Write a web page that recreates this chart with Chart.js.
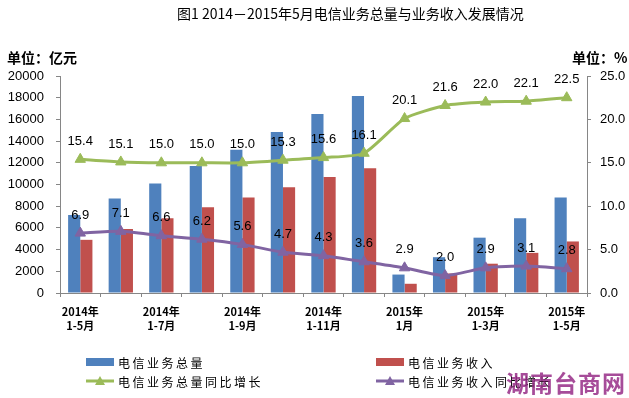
<!DOCTYPE html>
<html>
<head>
<meta charset="utf-8">
<script src="https://cdn.jsdelivr.net/npm/chart.js@4"></script>
<style>
  body { margin: 0; background: #fff; }
  #wrap { position: relative; width: 629px; height: 398px; overflow: hidden; font-family: "Noto Sans CJK SC", sans-serif; }
  #myChart { position: absolute; left: 0; top: 0; }
  .txt { position: absolute; white-space: nowrap; color: #000; }
  #title { left: 177px; top: 4px; font-size: 14px; line-height: 19px; }
  #unitL { left: 7px; top: 48px; font-size: 14px; font-weight: bold; line-height: 19px; }
  #unitR { left: 572px; top: 48px; font-size: 14px; font-weight: bold; line-height: 19px; }
  .leg { position: absolute; height: 18px; display: flex; align-items: center; font-size: 12px; letter-spacing: 2.5px; }
  .leg .sw { width: 28px; height: 8px; margin-right: 4px; }
  .leg svg { margin-right: 4px; }
  #mark { right: 3px; top: 368px; font-size: 23px; font-weight: bold; color: rgba(150, 45, 135, 0.85); letter-spacing: 1px; line-height: 28px; }
</style>
</head>
<body>
<div id="wrap">
  <canvas id="myChart" width="629" height="398"></canvas>
  <div class="txt" id="title">图1 2014－2015年5月电信业务总量与业务收入发展情况</div>
  <div class="txt" id="unitL">单位：亿元</div>
  <div class="txt" id="unitR">单位：%</div>
  <div id="legend"></div>
  <div class="txt" id="mark">湖南台商网</div>
</div>
<script>
const categories = [
    ["2014年", "1-5月"], ["2014年", "1-6月"], ["2014年", "1-7月"], ["2014年", "1-8月"],
    ["2014年", "1-9月"], ["2014年", "1-10月"], ["2014年", "1-11月"], ["2014年", "1-12月"],
    ["2015年", "1月"], ["2015年", "1-2月"], ["2015年", "1-3月"], ["2015年", "1-4月"], ["2015年", "1-5月"]
];
const volumeValues = [7200, 8700, 10100, 11700, 13200, 14850, 16500, 18150, 1700, 3300, 5100, 6900, 8800];
const revenueValues = [4900, 5900, 6900, 7900, 8800, 9750, 10700, 11500, 850, 1800, 2700, 3700, 4750];
const volumeGrowth = [15.4, 15.1, 15.0, 15.0, 15.0, 15.3, 15.6, 16.1, 20.1, 21.6, 22.0, 22.1, 22.5];
const revenueGrowth = [6.9, 7.1, 6.6, 6.2, 5.6, 4.7, 4.3, 3.6, 2.9, 2.0, 2.9, 3.1, 2.8];
const leftTicks = [0, 2000, 4000, 6000, 8000, 10000, 12000, 14000, 16000, 18000, 20000];
const rightTicks = [0, 5, 10, 15, 20, 25];
const seriesNames = ["电信业务总量", "电信业务收入", "电信业务总量同比增长", "电信业务收入同比增长"];
const seriesColors = ["#4F81BD", "#C0504D", "#9BBB59", "#8064A2"];

const axisColor = "#868686";
const tickFont = { family: "'Liberation Sans', Arial, sans-serif", size: 13 };

// value labels above the two growth lines
const lineLabels = {
    id: "lineLabels",
    afterDatasetsDraw(chart) {
        const ctx = chart.ctx;
        ctx.save();
        ctx.font = "13px 'Liberation Sans', Arial, sans-serif";
        ctx.fillStyle = "#000";
        ctx.textAlign = "center";
        ctx.textBaseline = "middle";
        [2, 3].forEach(function (di) {
            const meta = chart.getDatasetMeta(di);
            meta.data.forEach(function (pt, i) {
                ctx.fillText(chart.data.datasets[di].data[i].toFixed(1), pt.x, pt.y - 18);
            });
        });
        ctx.restore();
    }
};

const ctx = document.getElementById("myChart").getContext("2d");
const myChart = new Chart(ctx, {
    type: "bar",
    data: {
        labels: categories,
        datasets: [
            { label: seriesNames[0], data: volumeValues, backgroundColor: seriesColors[0], yAxisID: "y", order: 2,
              categoryPercentage: 0.6, barPercentage: 1.0 },
            { label: seriesNames[1], data: revenueValues, backgroundColor: seriesColors[1], yAxisID: "y", order: 2,
              categoryPercentage: 0.6, barPercentage: 1.0 },
            { type: "line", label: seriesNames[2], data: volumeGrowth, yAxisID: "y1", order: 0,
              borderColor: seriesColors[2], backgroundColor: seriesColors[2], borderWidth: 3, tension: 0.2,
              pointStyle: "triangle", pointRadius: 6, pointBorderWidth: 1 },
            { type: "line", label: seriesNames[3], data: revenueGrowth, yAxisID: "y1", order: 1,
              borderColor: seriesColors[3], backgroundColor: seriesColors[3], borderWidth: 3, tension: 0.2,
              pointStyle: "triangle", pointRadius: 6, pointBorderWidth: 1 }
        ]
    },
    options: {
        responsive: false,
        animation: false,
        layout: { padding: { top: 76, left: 0, right: 0, bottom: 0 } },
        plugins: {
            legend: { display: false },
            title: { display: false },
            tooltip: { enabled: false }
        },
        scales: {
            x: {
                offset: true,
                grid: { offset: true, drawOnChartArea: false, color: axisColor, tickLength: 4 },
                border: { color: axisColor },
                ticks: {
                    autoSkip: false, maxRotation: 0, minRotation: 0, padding: 7, color: "#000",
                    font: { family: "'Noto Sans CJK SC', sans-serif", size: 11, weight: "bold", lineHeight: 1.35 },
                    callback: function (v, i) { return i % 2 === 0 ? categories[i] : ""; }
                },
                afterFit: function (scale) { scale.height = 105; }
            },
            y: {
                position: "left",
                min: leftTicks[0], max: leftTicks[leftTicks.length - 1],
                afterBuildTicks: function (scale) { scale.ticks = leftTicks.map(function (v) { return { value: v }; }); },
                grid: { drawOnChartArea: false, color: axisColor, tickLength: 4 },
                border: { color: axisColor },
                ticks: { color: "#000", font: tickFont, padding: 12,
                         callback: function (v) { return String(v); } },
                afterFit: function (scale) { scale.width = 60; }
            },
            y1: {
                position: "right",
                min: rightTicks[0], max: rightTicks[rightTicks.length - 1],
                afterBuildTicks: function (scale) { scale.ticks = rightTicks.map(function (v) { return { value: v }; }); },
                grid: { drawOnChartArea: false, color: axisColor, tickLength: 4 },
                border: { color: axisColor },
                ticks: { color: "#000", font: tickFont, padding: 9,
                         callback: function (v) { return Number(v).toFixed(1); } },
                afterFit: function (scale) { scale.width = 42; }
            }
        }
    },
    plugins: [lineLabels]
});

// legend in two columns, like the original
const legend = document.getElementById("legend");
const legendPos = [[86, 353], [376, 353], [86, 372], [376, 372]];
seriesNames.forEach(function (name, i) {
    const item = document.createElement("div");
    item.className = "leg";
    item.style.left = legendPos[i][0] + "px";
    item.style.top = legendPos[i][1] + "px";
    let marker;
    if (i < 2) {
        marker = '<div class="sw" style="background:' + seriesColors[i] + '"></div>';
    } else {
        marker = '<svg width="28" height="12"><line x1="0" y1="6" x2="28" y2="6" stroke="' + seriesColors[i] +
            '" stroke-width="3"/><polygon points="14,1 19,10 9,10" fill="' + seriesColors[i] + '"/></svg>';
    }
    item.innerHTML = marker + "<span>" + name + "</span>";
    legend.appendChild(item);
});
</script>
</body>
</html>
